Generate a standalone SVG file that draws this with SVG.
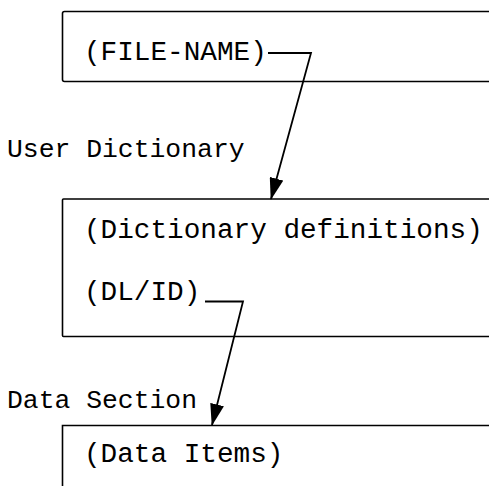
<svg xmlns="http://www.w3.org/2000/svg" width="489" height="486" viewBox="0 0 489 486">
  <defs>
    <marker id="arrow" viewBox="0 0 22 14" refX="21" refY="7" markerWidth="22" markerHeight="14" markerUnits="userSpaceOnUse" orient="auto">
      <path d="M0,0 L22,7 L0,14 Z" fill="#000"/>
    </marker>
  </defs>
  <style>
    .box { fill: none; stroke: #000; stroke-width: 1.6; }
    .label { font-family: "Liberation Mono", "DejaVu Sans Mono", monospace; font-size: 27.7px; fill: #000; }
    .heading { font-family: "Liberation Mono", "DejaVu Sans Mono", monospace; font-size: 26.4px; fill: #000; }
    .conn { fill: none; stroke: #000; stroke-width: 1.8; stroke-linejoin: miter; }
  </style>
  <rect width="489" height="486" fill="#fff"/>

  <!-- File header block -->
  <g id="file-header">
    <rect class="box" x="62.5" y="11.5" width="460" height="70" rx="2"/>
    <text class="label" x="84" y="60">(FILE-NAME)</text>
  </g>

  <!-- User dictionary block -->
  <g id="user-dictionary">
    <text class="heading" x="7" y="157">User Dictionary</text>
    <rect class="box" x="62.5" y="199" width="460" height="137.5" rx="1"/>
    <text class="label" x="84" y="238">(Dictionary definitions)</text>
    <text class="label" x="84" y="300">(DL/ID)</text>
  </g>

  <!-- Data section block -->
  <g id="data-section">
    <text class="heading" x="7" y="408">Data Section</text>
    <path class="box" d="M62.5,486 L62.5,425.5 L500,425.5"/>
    <text class="label" x="84" y="462">(Data Items)</text>
  </g>

  <!-- Pointers between blocks -->
  <g id="connectors">
    <path class="conn" d="M268,53 L311,53 L271,199" marker-end="url(#arrow)"/>
    <path class="conn" d="M205,301.5 L243,301.5 L212,425" marker-end="url(#arrow)"/>
  </g>
</svg>
